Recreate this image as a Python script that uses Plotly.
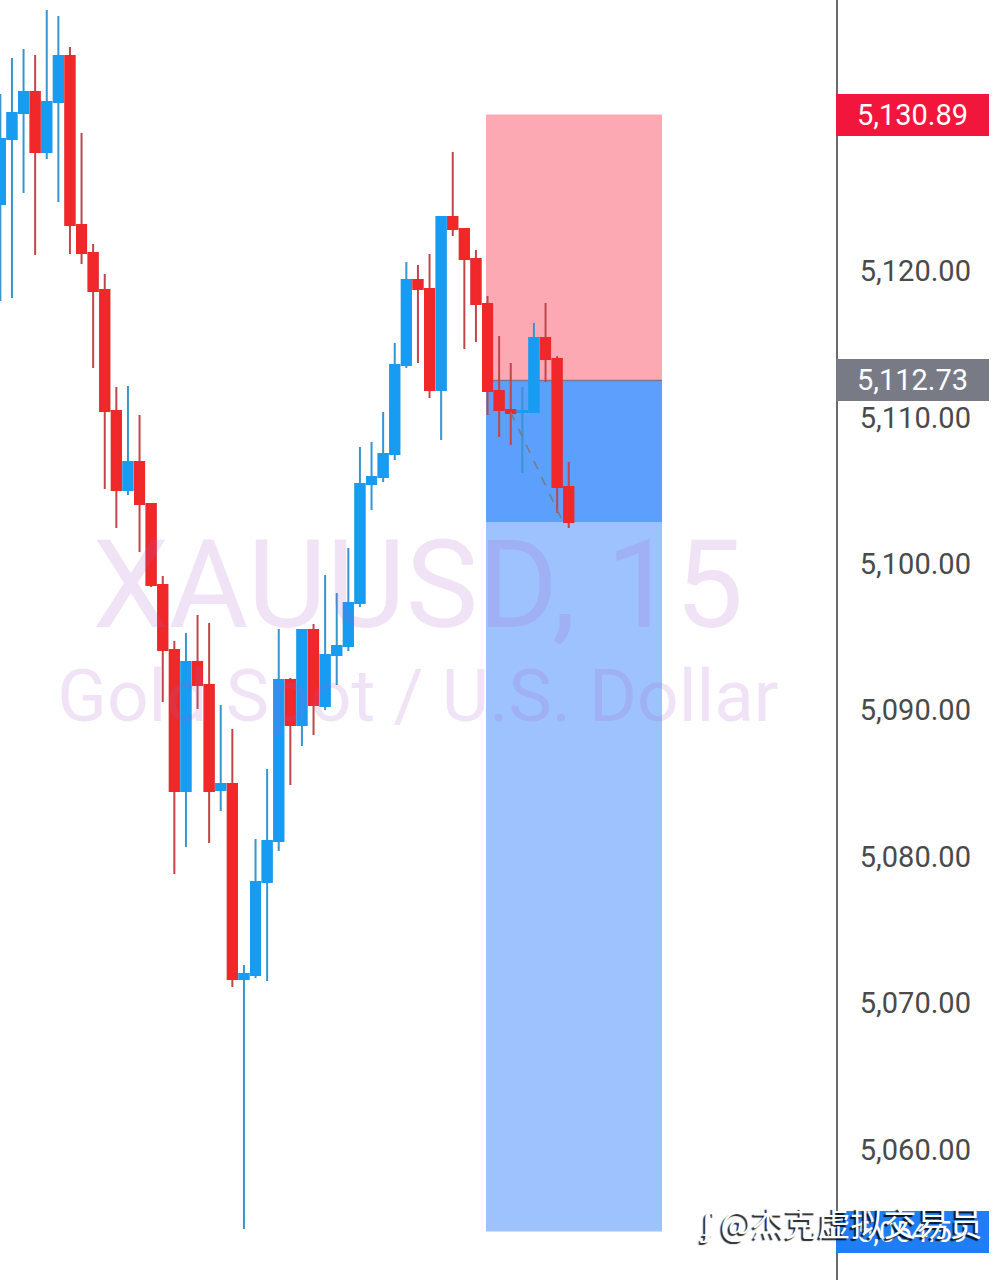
import plotly.graph_objects as go

# 15-minute XAUUSD bars
opens = [5124.78, 5129.22, 5131.00, 5132.43, 5128.33, 5131.75, 5134.89, 5123.35, 5121.43, 5118.91,
         5110.64, 5105.25, 5107.16, 5104.29, 5098.76, 5094.32, 5084.69, 5093.50, 5091.93, 5084.75,
         5085.16, 5071.84, 5072.12, 5078.47, 5081.27, 5092.27, 5089.19, 5095.68, 5090.49, 5093.98,
         5094.59, 5097.53, 5105.66, 5106.13, 5107.71, 5113.78, 5119.59, 5118.98, 5112.08, 5123.89,
         5123.07, 5121.03, 5117.95, 5112.01, 5110.71, 5110.57, 5110.57, 5115.63, 5114.19, 5105.45]
highs = [5132.30, 5134.75, 5135.37, 5134.96, 5138.03, 5137.62, 5135.51, 5129.63, 5122.05, 5120.00,
         5112.28, 5112.35, 5110.37, 5104.36, 5099.37, 5094.93, 5095.48, 5096.71, 5096.16, 5090.56,
         5088.92, 5072.80, 5081.41, 5086.19, 5095.75, 5092.41, 5095.68, 5096.09, 5099.44, 5098.21,
         5101.28, 5108.18, 5108.53, 5110.57, 5115.29, 5120.82, 5120.62, 5121.37, 5123.89, 5128.33,
         5123.07, 5121.64, 5118.50, 5115.77, 5113.92, 5112.28, 5116.65, 5118.02, 5114.40, 5107.16]
lows = [5118.16, 5118.36, 5125.53, 5121.30, 5127.86, 5124.92, 5121.37, 5120.68, 5113.58, 5105.31,
        5102.65, 5104.91, 5101.01, 5098.62, 5090.77, 5079.02, 5080.86, 5090.29, 5081.13, 5083.32,
        5071.30, 5054.77, 5071.91, 5071.71, 5080.59, 5085.10, 5087.76, 5088.51, 5090.22, 5091.93,
        5094.25, 5097.25, 5103.88, 5105.79, 5107.30, 5113.58, 5113.92, 5111.53, 5108.66, 5122.60,
        5114.88, 5115.36, 5110.37, 5108.87, 5108.32, 5106.41, 5110.51, 5112.62, 5103.68, 5102.65]
closes = [5129.22, 5131.00, 5132.43, 5128.33, 5131.75, 5134.89, 5123.35, 5121.43, 5118.84, 5110.64,
          5105.25, 5107.16, 5104.29, 5098.76, 5094.32, 5084.69, 5093.50, 5091.93, 5084.69, 5085.16,
          5071.84, 5072.19, 5078.47, 5081.27, 5092.27, 5089.19, 5095.68, 5090.56, 5093.98, 5094.59,
          5097.53, 5105.66, 5106.13, 5107.71, 5113.78, 5119.59, 5118.98, 5112.08, 5123.89, 5123.07,
          5121.03, 5117.95, 5112.01, 5110.71, 5110.51, 5110.64, 5115.63, 5114.19, 5105.45, 5103.06]
bars = list(range(len(closes)))

# short position tool
stop_price = 5130.89
entry_price = 5112.73
target_price = 5054.59
tool_bars = [41.87, 57.04]
path_bars = [44, 48.5]
path_prices = [5110.55, 5103.06]

tick_prices = [5060, 5070, 5080, 5090, 5100, 5110, 5120]

# symbol watermark (text, bar position, price, font size)
watermark = [("XAUUSD, 15", 36.0, 5097.94, 122), ("Gold Spot / U.S. Dollar", 36.0, 5090.70, 73)]

UP = "#179CF2"
DOWN = "#F0282A"
UP_WICK = "#3696CF"
DOWN_WICK = "#C0464A"
FONT = "Roboto"

fig = go.Figure()

# watermark first so it sits above the zones but under the bars
for text, bx, by, size in watermark:
    fig.add_trace(go.Scatter(
        x=[bx], y=[by], mode="text", text=[text], textposition="middle center",
        textfont=dict(family=FONT, size=size, color="rgba(170,90,200,0.17)"),
        showlegend=False, hoverinfo="skip",
    ))

# wicks (body gets covered by the second trace)
fig.add_trace(go.Candlestick(
    x=bars, open=opens, high=highs, low=lows, close=closes,
    increasing=dict(line=dict(color=UP_WICK, width=2), fillcolor=UP),
    decreasing=dict(line=dict(color=DOWN_WICK, width=2), fillcolor=DOWN),
    showlegend=False, hoverinfo="skip",
))
# bodies only
body_hi = [max(o, c) for o, c in zip(opens, closes)]
body_lo = [min(o, c) for o, c in zip(opens, closes)]
fig.add_trace(go.Candlestick(
    x=bars, open=opens, high=body_hi, low=body_lo, close=closes,
    increasing=dict(line=dict(color=UP, width=2), fillcolor=UP),
    decreasing=dict(line=dict(color=DOWN, width=2), fillcolor=DOWN),
    showlegend=False,
))
fig.add_trace(go.Scatter(
    x=path_bars, y=path_prices, mode="lines",
    line=dict(color="#787B86", width=1.5, dash="dash"),
    showlegend=False, hoverinfo="skip",
))

last_close = closes[-1]
zones = [
    (entry_price, stop_price, "#FCA9B4"),
    (last_close, entry_price, "#5C9FFC"),
    (target_price, last_close, "#9DC2FE"),
]
for y0, y1, color in zones:
    fig.add_shape(type="rect", xref="x", yref="y", x0=tool_bars[0], x1=tool_bars[1],
                  y0=y0, y1=y1, fillcolor=color, line_width=0, layer="below")
fig.add_shape(type="line", xref="x", yref="y", x0=tool_bars[0], x1=tool_bars[1],
              y0=entry_price, y1=entry_price, line=dict(color="#787B86", width=1.5), layer="below")

# price labels on the scale
for price, bg in [(stop_price, "#F2163D"), (entry_price, "#787B86"), (target_price, "#1F7EF5")]:
    fig.add_annotation(
        xref="paper", x=1, xanchor="left", yref="y", y=price, yanchor="middle",
        text=f"{price:,.2f}", showarrow=False, align="center",
        width=145, height=34, borderpad=3, bgcolor=bg, bordercolor=bg,
        font=dict(family=FONT, size=29, color="white"),
    )

fig.add_annotation(
    xref="paper", x=1.178, xanchor="right", yref="paper", y=0.0455, yanchor="middle",
    text="<b>ʄ</b> @杰克虚拟交易员", showarrow=False,
    font=dict(family="Noto Sans CJK SC", size=33, color="white",
              shadow="-2px 2px 1px rgba(0,0,0,0.85)"),
)

fig.update_layout(
    width=998, height=1280,
    margin=dict(l=0, r=162, t=0, b=0),
    paper_bgcolor="white", plot_bgcolor="white",
    boxmode="overlay", boxgap=0.22, boxgroupgap=0,
    hovermode=False,
    xaxis=dict(range=[-0.03, 72.04], visible=False, rangeslider=dict(visible=False)),
    yaxis=dict(
        side="right", range=[5051.284, 5138.716],
        tickvals=tick_prices, tickformat=",.2f",
        tickfont=dict(family=FONT, size=29, color="#4A4A4A"),
        ticks="", ticklabelstandoff=16, ticklabelshift=-3,
        showgrid=False, zeroline=False,
        showline=True, linecolor="#6B6B6B", linewidth=2,
    ),
)

fig.write_html("out.html", config={"displayModeBar": False},
               post_script="document.body.style.margin = '0';")
